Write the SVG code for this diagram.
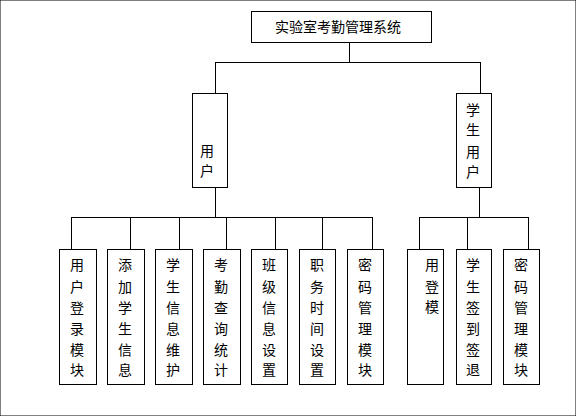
<svg xmlns="http://www.w3.org/2000/svg" width="576" height="416" viewBox="0 0 576 416">
<style>
rect{fill:#fff;stroke:#000;stroke-width:1}
line,polyline{stroke:#000;stroke-width:1;fill:none}
text{font-family:"Noto Sans CJK SC","Liberation Sans",sans-serif;font-size:14px;fill:#000;text-anchor:middle}
</style>
<rect width="576" height="416" fill="#fff" stroke="none"/>
<g id="connectors">
<line x1="349.5" y1="42" x2="349.5" y2="62.5"/>
<line x1="215.5" y1="62.5" x2="480.5" y2="62.5"/>
<line x1="215.5" y1="62" x2="215.5" y2="93"/>
<line x1="480.5" y1="62" x2="480.5" y2="93"/>
<line x1="215.5" y1="187" x2="215.5" y2="217.5"/>
<line x1="71.5" y1="217.5" x2="372.5" y2="217.5"/>
<line x1="71.5" y1="217" x2="71.5" y2="249"/>
<line x1="130.5" y1="217" x2="130.5" y2="249"/>
<line x1="179.5" y1="217" x2="179.5" y2="249"/>
<line x1="226.5" y1="217" x2="226.5" y2="249"/>
<line x1="275.5" y1="217" x2="275.5" y2="249"/>
<line x1="322.5" y1="217" x2="322.5" y2="249"/>
<line x1="372.5" y1="217" x2="372.5" y2="249"/>
<line x1="479.5" y1="187" x2="479.5" y2="217.5"/>
<line x1="419.5" y1="217.5" x2="528.5" y2="217.5"/>
<line x1="419.5" y1="217" x2="419.5" y2="249"/>
<line x1="467.5" y1="217" x2="467.5" y2="249"/>
<line x1="528.5" y1="217" x2="528.5" y2="249"/>
</g>
<g id="root">
<rect x="251.5" y="11.5" width="180" height="31"/>
<text x="338" y="32">实验室考勤管理系统</text>
</g>
<g id="user">
<rect x="192.5" y="93.5" width="35" height="94"/>
<text x="207" y="156">用</text>
<text x="207" y="176">户</text>
</g>
<g id="student">
<rect x="456.5" y="93.5" width="35" height="94"/>
<text x="473" y="115">学</text>
<text x="473" y="135">生</text>
<text x="473" y="157">用</text>
<text x="473" y="177">户</text>
</g>
<g id="m1">
<rect x="59.5" y="249.5" width="37" height="135"/>
<text x="77" y="270">用</text><text x="77" y="292">户</text><text x="77" y="313">登</text><text x="77" y="334">录</text><text x="77" y="355">模</text><text x="77" y="375">块</text>
</g>
<g id="m2">
<rect x="107.5" y="249.5" width="37" height="135"/>
<text x="125" y="270">添</text><text x="125" y="292">加</text><text x="125" y="313">学</text><text x="125" y="334">生</text><text x="125" y="355">信</text><text x="125" y="375">息</text>
</g>
<g id="m3">
<rect x="155.5" y="249.5" width="37" height="135"/>
<text x="173" y="270">学</text><text x="173" y="292">生</text><text x="173" y="313">信</text><text x="173" y="334">息</text><text x="173" y="355">维</text><text x="173" y="375">护</text>
</g>
<g id="m4">
<rect x="203.5" y="249.5" width="37" height="135"/>
<text x="221" y="270">考</text><text x="221" y="292">勤</text><text x="221" y="313">查</text><text x="221" y="334">询</text><text x="221" y="355">统</text><text x="221" y="375">计</text>
</g>
<g id="m5">
<rect x="251.5" y="249.5" width="36" height="135"/>
<text x="269" y="270">班</text><text x="269" y="292">级</text><text x="269" y="313">信</text><text x="269" y="334">息</text><text x="269" y="355">设</text><text x="269" y="375">置</text>
</g>
<g id="m6">
<rect x="299.5" y="249.5" width="36" height="135"/>
<text x="317" y="270">职</text><text x="317" y="292">务</text><text x="317" y="313">时</text><text x="317" y="334">间</text><text x="317" y="355">设</text><text x="317" y="375">置</text>
</g>
<g id="m7">
<rect x="347.5" y="249.5" width="36" height="135"/>
<text x="365" y="270">密</text><text x="365" y="292">码</text><text x="365" y="313">管</text><text x="365" y="334">理</text><text x="365" y="355">模</text><text x="365" y="375">块</text>
</g>
<g id="s1">
<rect x="407.5" y="249.5" width="36" height="135"/>
<text x="432" y="270">用</text><text x="432" y="292">登</text><text x="432" y="312">模</text>
</g>
<g id="s2">
<rect x="456.5" y="249.5" width="35" height="135"/>
<text x="473" y="270">学</text><text x="473" y="292">生</text><text x="473" y="313">签</text><text x="473" y="334">到</text><text x="473" y="355">签</text><text x="473" y="375">退</text>
</g>
<g id="s3">
<rect x="503.5" y="249.5" width="36" height="135"/>
<text x="521" y="270">密</text><text x="521" y="292">码</text><text x="521" y="313">管</text><text x="521" y="334">理</text><text x="521" y="355">模</text><text x="521" y="375">块</text>
</g>
</svg>
